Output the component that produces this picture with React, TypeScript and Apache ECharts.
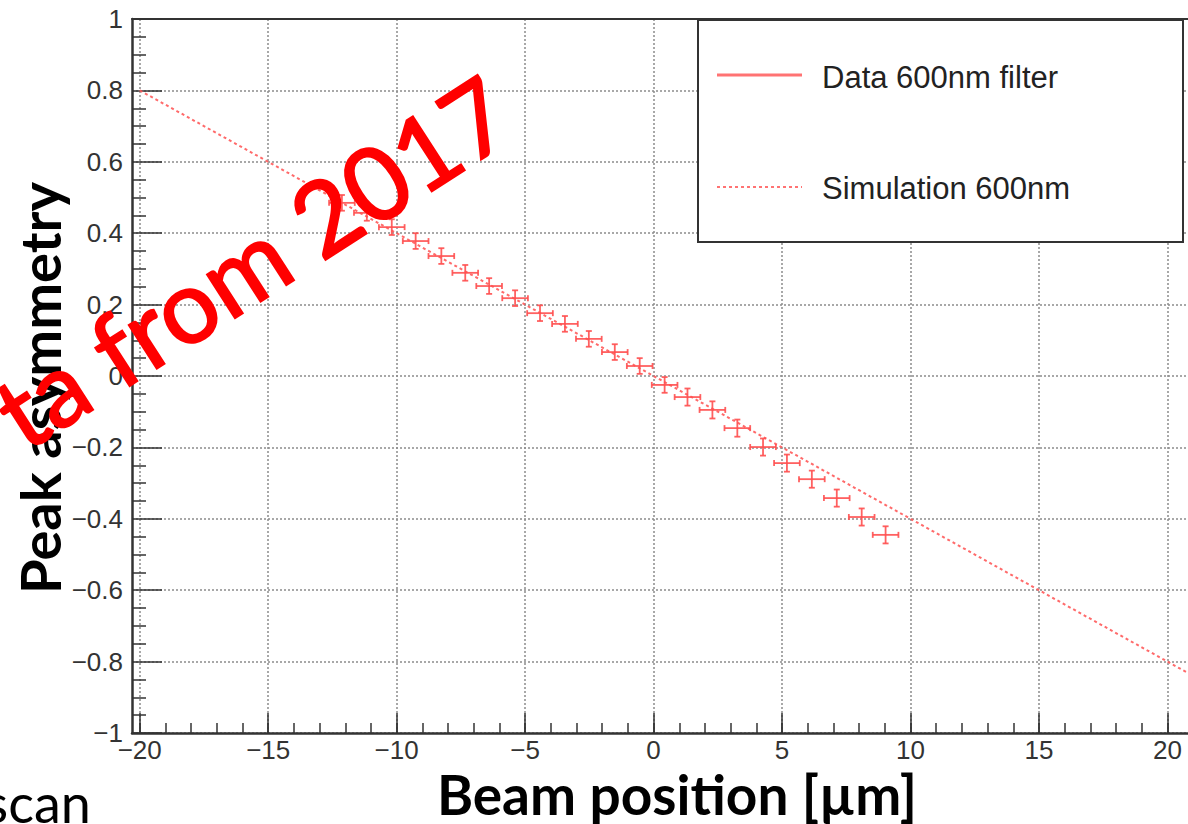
import React, { useEffect, useRef } from "react";
import * as echarts from "echarts";

// Measured peak asymmetry vs. beam position (600 nm filter)
const beamPosition = [
  -12.13, -11.16, -10.19, -9.26, -8.26, -7.33, -6.4, -5.39, -4.42, -3.45, -2.52, -1.51,
  -0.54, 0.43, 1.32, 2.29, 3.26, 4.26, 5.19, 6.16, 7.13, 8.1, 9.03,
];
const peakAsymmetry = [
  0.485, 0.457, 0.417, 0.378, 0.336, 0.289, 0.252, 0.218, 0.176, 0.146, 0.104, 0.067,
  0.028, -0.025, -0.059, -0.095, -0.146, -0.199, -0.244, -0.289, -0.342, -0.395, -0.445,
];
const positionError = [
  0.5, 0.5, 0.5, 0.5, 0.5, 0.5, 0.5, 0.5, 0.5, 0.5, 0.5, 0.5,
  0.5, 0.5, 0.5, 0.5, 0.5, 0.5, 0.5, 0.5, 0.5, 0.5, 0.5,
];
const asymmetryError = [
  0.022, 0.022, 0.022, 0.022, 0.022, 0.022, 0.022, 0.022, 0.022, 0.022, 0.022, 0.022,
  0.022, 0.022, 0.024, 0.024, 0.024, 0.024, 0.024, 0.024, 0.024, 0.024, 0.024,
];

// Simulated response (600 nm)
const simPosition = [-20, -15, -10, -5, 0, 5, 10, 15, 20, 20.8];
const simAsymmetry = [0.8, 0.6, 0.4, 0.2, 0, -0.2, -0.4, -0.6, -0.8, -0.832];

// Axis ticks
const xMajorTicks = [-20, -15, -10, -5, 0, 5, 10, 15, 20];
const xMinorTicks = [
  -20, -19, -18, -17, -16, -15, -14, -13, -12, -11, -10, -9, -8, -7, -6, -5, -4, -3, -2, -1,
  0, 1, 2, 3, 4, 5, 6, 7, 8, 9, 10, 11, 12, 13, 14, 15, 16, 17, 18, 19, 20,
];

const seriesNames = ["Data 600nm filter", "Simulation 600nm"];

const RED = "rgba(255, 80, 80, 0.9)";
const AXIS = "#333";
const GRID_LINE = { color: "#8c8c8c", type: [2, 2] as number[], width: 1.5 };
const TICK_FONT = { fontFamily: "Liberation Sans, Arial, sans-serif", fontSize: 26, color: "#333" };

const minusSign = (s: string) => s.replace("-", "\u2212");

export default function App() {
  const ref = useRef<HTMLDivElement>(null);

  useEffect(() => {
    if (!ref.current) return;
    const chart = echarts.init(ref.current, undefined, { renderer: "svg" });

    const xMin = -20.3;
    const xMax = 20.8;

    const option: any = {
      animation: false,
      backgroundColor: "#ffffff",
      grid: { left: 132, top: 19, width: 1060, height: 714, show: false },
      xAxis: [
        {
          type: "value",
          position: "bottom",
          min: xMin,
          max: xMax,
          axisLine: { show: true, onZero: false, lineStyle: { color: AXIS, width: 2.5 } },
          axisTick: {
            show: true,
            inside: true,
            length: 20,
            customValues: xMajorTicks,
            lineStyle: { color: AXIS, width: 1.5 },
          },
          axisLabel: {
            show: true,
            customValues: xMajorTicks,
            margin: 4,
            formatter: (v: number) => minusSign(String(v)),
            ...TICK_FONT,
          },
          splitLine: { show: true, lineStyle: GRID_LINE },
        },
        {
          type: "value",
          position: "bottom",
          min: xMin,
          max: xMax,
          axisLine: { show: false, onZero: false },
          axisTick: {
            show: true,
            inside: true,
            length: 10,
            customValues: xMinorTicks,
            lineStyle: { color: AXIS, width: 1.5 },
          },
          axisLabel: { show: false },
          splitLine: { show: false },
        },
        {
          type: "value",
          position: "top",
          min: xMin,
          max: xMax,
          axisLine: { show: true, onZero: false, lineStyle: { color: AXIS, width: 2 } },
          axisTick: { show: false },
          axisLabel: { show: false },
          splitLine: { show: false },
        },
      ],
      yAxis: [
        {
          type: "value",
          min: -1,
          max: 1,
          interval: 0.2,
          axisLine: { show: true, onZero: false, lineStyle: { color: AXIS, width: 2.5 } },
          axisTick: { show: true, inside: true, length: 30, lineStyle: { color: AXIS, width: 1.5 } },
          minorTick: {
            show: true,
            splitNumber: 4,
            length: 14,
            lineStyle: { color: AXIS, width: 1.5 },
          },
          axisLabel: {
            margin: 9,
            formatter: (v: number) => {
              const r = Math.round(v * 10) / 10;
              return minusSign(r === 0 ? "0" : String(r));
            },
            ...TICK_FONT,
          },
          splitLine: { show: true, lineStyle: GRID_LINE },
        },
      ],
      series: [
        {
          name: seriesNames[1],
          type: "line",
          xAxisIndex: 0,
          data: simPosition.map((x, i) => [x, simAsymmetry[i]]),
          showSymbol: false,
          symbol: "none",
          lineStyle: { color: "rgba(255, 90, 90, 0.9)", width: 2, type: [3, 3] },
          z: 3,
        },
        {
          name: seriesNames[0],
          type: "custom",
          xAxisIndex: 0,
          data: beamPosition.map((x, i) => [x, peakAsymmetry[i], positionError[i], asymmetryError[i]]),
          encode: { x: 0, y: 1 },
          z: 4,
          renderItem: (_params: any, api: any) => {
            const x = api.value(0);
            const y = api.value(1);
            const ex = api.value(2);
            const ey = api.value(3);
            const l = api.coord([x - ex, y]);
            const r = api.coord([x + ex, y]);
            const t = api.coord([x, y + ey]);
            const b = api.coord([x, y - ey]);
            const style = { stroke: RED, lineWidth: 1.8 };
            const cap = 3;
            const seg = (x1: number, y1: number, x2: number, y2: number) => ({
              type: "line",
              shape: { x1, y1, x2, y2 },
              style,
            });
            return {
              type: "group",
              children: [
                seg(l[0], l[1], r[0], r[1]),
                seg(t[0], t[1], b[0], b[1]),
                seg(l[0], l[1] - cap, l[0], l[1] + cap),
                seg(r[0], r[1] - cap, r[0], r[1] + cap),
                seg(t[0] - cap, t[1], t[0] + cap, t[1]),
                seg(b[0] - cap, b[1], b[0] + cap, b[1]),
              ],
            };
          },
        },
      ],
      graphic: [
        // legend box
        {
          type: "rect",
          z: 50,
          shape: { x: 698, y: 20, width: 485, height: 222 },
          style: { fill: "#ffffff", stroke: AXIS, lineWidth: 2 },
        },
        {
          type: "line",
          z: 51,
          shape: { x1: 717, y1: 75, x2: 802, y2: 75 },
          style: { stroke: "rgba(255, 100, 100, 0.9)", lineWidth: 3 },
        },
        {
          type: "line",
          z: 51,
          shape: { x1: 717, y1: 187, x2: 802, y2: 187 },
          style: { stroke: "rgba(255, 100, 100, 0.9)", lineWidth: 2, lineDash: [3, 3] },
        },
        {
          type: "text",
          z: 51,
          x: 822,
          y: 77,
          style: {
            text: seriesNames[0],
            fontFamily: "Liberation Sans, Arial, sans-serif",
            fontSize: 31,
            fill: "#222",
            align: "left",
            verticalAlign: "middle",
          },
        },
        {
          type: "text",
          z: 51,
          x: 822,
          y: 188,
          style: {
            text: seriesNames[1],
            fontFamily: "Liberation Sans, Arial, sans-serif",
            fontSize: 31,
            fill: "#222",
            align: "left",
            verticalAlign: "middle",
          },
        },
        // axis titles
        {
          type: "text",
          z: 20,
          x: 39,
          y: 388,
          rotation: Math.PI / 2,
          style: {
            text: "Peak asymmetry",
            fontFamily: "Lato, sans-serif",
            fontWeight: "bold",
            fontSize: 56,
            fill: "#000",
            align: "center",
            verticalAlign: "middle",
          },
        },
        {
          type: "text",
          z: 20,
          x: 677,
          y: 794,
          style: {
            text: "Beam position [\u00b5m]",
            fontFamily: "Lato, sans-serif",
            fontWeight: "bold",
            fontSize: 55,
            fill: "#000",
            align: "center",
            verticalAlign: "middle",
          },
        },
        // slide text below the plot
        {
          type: "text",
          z: 20,
          x: 91,
          y: 802,
          style: {
            text: "scan",
            fontFamily: "Lato, sans-serif",
            fontSize: 54,
            fill: "#000",
            align: "right",
            verticalAlign: "middle",
          },
        },
        // red stamp across the plot
        {
          type: "text",
          z: 100,
          x: 499,
          y: 101,
          rotation: (32.8 * Math.PI) / 180,
          style: {
            text: "ta from 2017",
            fontFamily: "Lato, sans-serif",
            fontSize: 102,
            fill: "#ff0000",
            stroke: "#ff0000",
            lineWidth: 2,
            align: "right",
            verticalAlign: "middle",
          },
        },
      ],
    };

    chart.setOption(option);
    return () => chart.dispose();
  }, []);

  return (
    <div
      ref={ref}
      style={{ position: "absolute", left: 0, top: 0, width: 1188, height: 824, background: "#fff" }}
    />
  );
}
